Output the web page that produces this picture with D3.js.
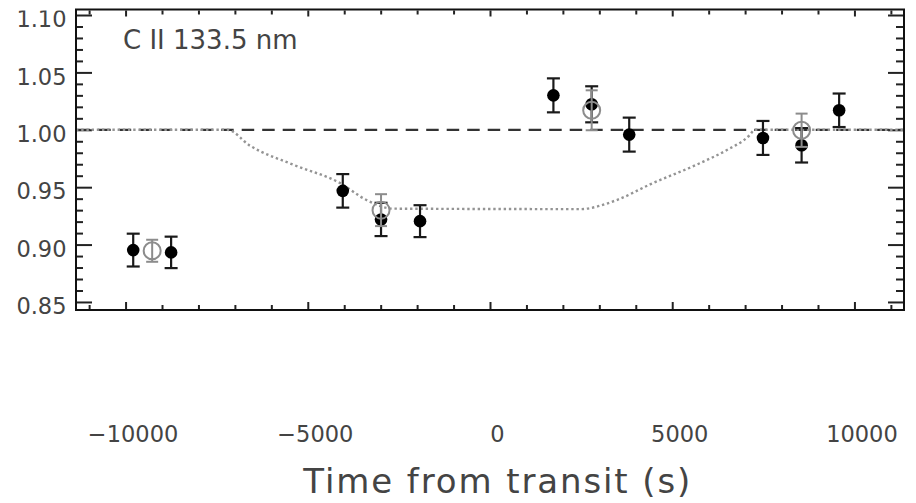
<!DOCTYPE html>
<html>
<head>
<meta charset="utf-8">
<script src="https://cdn.jsdelivr.net/npm/d3@7"></script>
<style>
  html, body { margin: 0; padding: 0; background: #fff; }
  svg { display: block; }
  text { font-family: "DejaVu Sans", sans-serif; }
</style>
</head>
<body>
<svg id="chart" width="916" height="503"></svg>
<script>
// ---- data ----
const pointTimes  = [-9790, -8750, -4040, -2990, -1920, 1740, 2790, 3820, 7490, 8550, 9580];
const pointValues = [0.8952, 0.8932, 0.9468, 0.9219, 0.9204, 1.0300, 1.0222, 0.9958, 0.9929, 0.9865, 1.0170];
const pointErrors = [0.0143, 0.0137, 0.0146, 0.0145, 0.0139, 0.0148, 0.0157, 0.0148, 0.0148, 0.0150, 0.0146];

const meanTimes  = [-9270, -2990, 2790, 8550];
const meanValues = [0.8946, 0.9300, 1.0170, 0.9996];
const meanErrors = [0.0096, 0.0139, 0.0174, 0.0145];

const modelTimes  = [-11360, -7210, -6580, -5400, -4110, -3380, -2660, 2470, 3470, 4390, 5760, 6490, 7120, 7260, 11360];
const modelValues = [1.0, 1.0, 0.986, 0.9696, 0.9535, 0.9387, 0.9313, 0.9309, 0.9387, 0.9524, 0.9709, 0.9822, 0.9952, 1.0, 1.0];

const baselineValue = 1.0;
const yMajorTicks = [0.85, 0.90, 0.95, 1.00, 1.05, 1.10];
const xMajorTicks = [-10000, -5000, 0, 5000, 10000];
const lineLabel = "C II 133.5 nm";
const xTitle = "Time from transit (s)";

// ---- layout ----
const L = 76, R = 904, T = 9.5, B = 310;
const svg = d3.select("#chart");

const x = d3.scaleLinear().domain([-11360, 11360]).range([L, R]);
const y = d3.scaleLinear().domain([0.843, 1.1048]).range([B, T]);

const yMinor = d3.range(85, 111).map(d => d / 100).filter(v => !yMajorTicks.some(m => Math.abs(m - v) < 1e-6));
const xMinor = d3.range(-11, 12).map(d => d * 1000).filter(v => !xMajorTicks.includes(v));

function styleAxis(g) {
  g.select(".domain").remove();
  g.selectAll(".tick line").attr("stroke", "#222").attr("stroke-width", 2);
}

// y axes (left with labels, right without)
const gyl = svg.append("g").attr("transform", `translate(${L},0)`)
  .call(d3.axisLeft(y).tickValues(yMajorTicks).tickSize(-16).tickPadding(9.5).tickFormat(d3.format(".2f")));
styleAxis(gyl);
gyl.selectAll(".tick text").attr("font-size", 22.5).attr("fill", "#444").attr("dy", "0.52em");

svg.append("g").attr("transform", `translate(${L},0)`)
  .call(d3.axisLeft(y).tickValues(yMinor).tickSize(-7).tickFormat("")).call(styleAxis);
svg.append("g").attr("transform", `translate(${R},0)`)
  .call(d3.axisRight(y).tickValues(yMajorTicks).tickSize(-16).tickFormat("")).call(styleAxis);
svg.append("g").attr("transform", `translate(${R},0)`)
  .call(d3.axisRight(y).tickValues(yMinor).tickSize(-8).tickFormat("")).call(styleAxis);

// x axes (bottom & top ticks only)
svg.append("g").attr("transform", `translate(0,${B})`)
  .call(d3.axisBottom(x).tickValues(xMajorTicks).tickSize(-8).tickFormat("")).call(styleAxis);
svg.append("g").attr("transform", `translate(0,${B})`)
  .call(d3.axisBottom(x).tickValues(xMinor).tickSize(-5).tickFormat("")).call(styleAxis);
svg.append("g").attr("transform", `translate(0,${T})`)
  .call(d3.axisTop(x).tickValues(xMajorTicks).tickSize(-7).tickFormat("")).call(styleAxis);
svg.append("g").attr("transform", `translate(0,${T})`)
  .call(d3.axisTop(x).tickValues(xMinor).tickSize(-5).tickFormat("")).call(styleAxis);

// x tick labels, placed well below the frame
const gxl = svg.append("g").attr("transform", `translate(7,425.7)`)
  .call(d3.axisBottom(x).tickValues(xMajorTicks).tickSize(0).tickPadding(0).tickFormat(d3.format("d")));
gxl.select(".domain").remove();
gxl.selectAll(".tick line").remove();
gxl.selectAll(".tick text").attr("font-size", 22.5).attr("fill", "#444");

// white mask above the frame (label "1.10" is clipped in the reference)
svg.append("rect").attr("x", 0).attr("y", 0).attr("width", 916).attr("height", 10.5).attr("fill", "#fff");

// dashed baseline
svg.append("line")
  .attr("x1", L).attr("x2", R).attr("y1", y(baselineValue)).attr("y2", y(baselineValue))
  .attr("stroke", "#333").attr("stroke-width", 2.2)
  .attr("stroke-dasharray", "12.5 8").attr("stroke-dashoffset", 18.8);

// dotted model
const model = modelTimes.map((t, i) => [t, modelValues[i]]);
svg.append("path")
  .datum(model)
  .attr("d", d3.line().x(d => x(d[0])).y(d => y(d[1])).curve(d3.curveMonotoneX))
  .attr("fill", "none").attr("stroke", "#949494").attr("stroke-width", 2.4)
  .attr("stroke-dasharray", "2.4 2.8");

// black points with error bars
const pts = pointTimes.map((t, i) => ({ t, v: pointValues[i], e: pointErrors[i] }));
const gp = svg.append("g");
function errorBars(g, data, color, capW, sw) {
  const s = g.selectAll(null).data(data).enter().append("g");
  s.append("line").attr("x1", d => x(d.t)).attr("x2", d => x(d.t))
    .attr("y1", d => y(d.v - d.e)).attr("y2", d => y(d.v + d.e))
    .attr("stroke", color).attr("stroke-width", sw);
  s.append("line").attr("x1", d => x(d.t) - capW / 2).attr("x2", d => x(d.t) + capW / 2)
    .attr("y1", d => y(d.v + d.e)).attr("y2", d => y(d.v + d.e))
    .attr("stroke", color).attr("stroke-width", sw);
  s.append("line").attr("x1", d => x(d.t) - capW / 2).attr("x2", d => x(d.t) + capW / 2)
    .attr("y1", d => y(d.v - d.e)).attr("y2", d => y(d.v - d.e))
    .attr("stroke", color).attr("stroke-width", sw);
}
errorBars(gp, pts, "#1a1a1a", 13, 2.2);
gp.selectAll(null).data(pts).enter().append("circle")
  .attr("cx", d => x(d.t)).attr("cy", d => y(d.v)).attr("r", 6.3).attr("fill", "#000");

// grey open circles (orbit means)
const means = meanTimes.map((t, i) => ({ t, v: meanValues[i], e: meanErrors[i] }));
const gm = svg.append("g");
errorBars(gm, means, "#8c8c8c", 12, 2);
gm.selectAll(null).data(means).enter().append("circle")
  .attr("cx", d => x(d.t)).attr("cy", d => y(d.v)).attr("r", 8.5)
  .attr("fill", "none").attr("stroke", "#8c8c8c").attr("stroke-width", 2);

// frame
svg.append("rect").attr("x", L).attr("y", T).attr("width", R - L).attr("height", B - T)
  .attr("fill", "none").attr("stroke", "#111").attr("stroke-width", 2);

// annotation
svg.append("text").attr("x", 123).attr("y", 49.3).attr("font-size", 26).attr("fill", "#444").text(lineLabel);

// x title
svg.append("text").attr("x", 303.3).attr("y", 493.3).attr("font-size", 34).attr("fill", "#444")
  .attr("textLength", 387).attr("lengthAdjust", "spacing").text(xTitle);
</script>
</body>
</html>
